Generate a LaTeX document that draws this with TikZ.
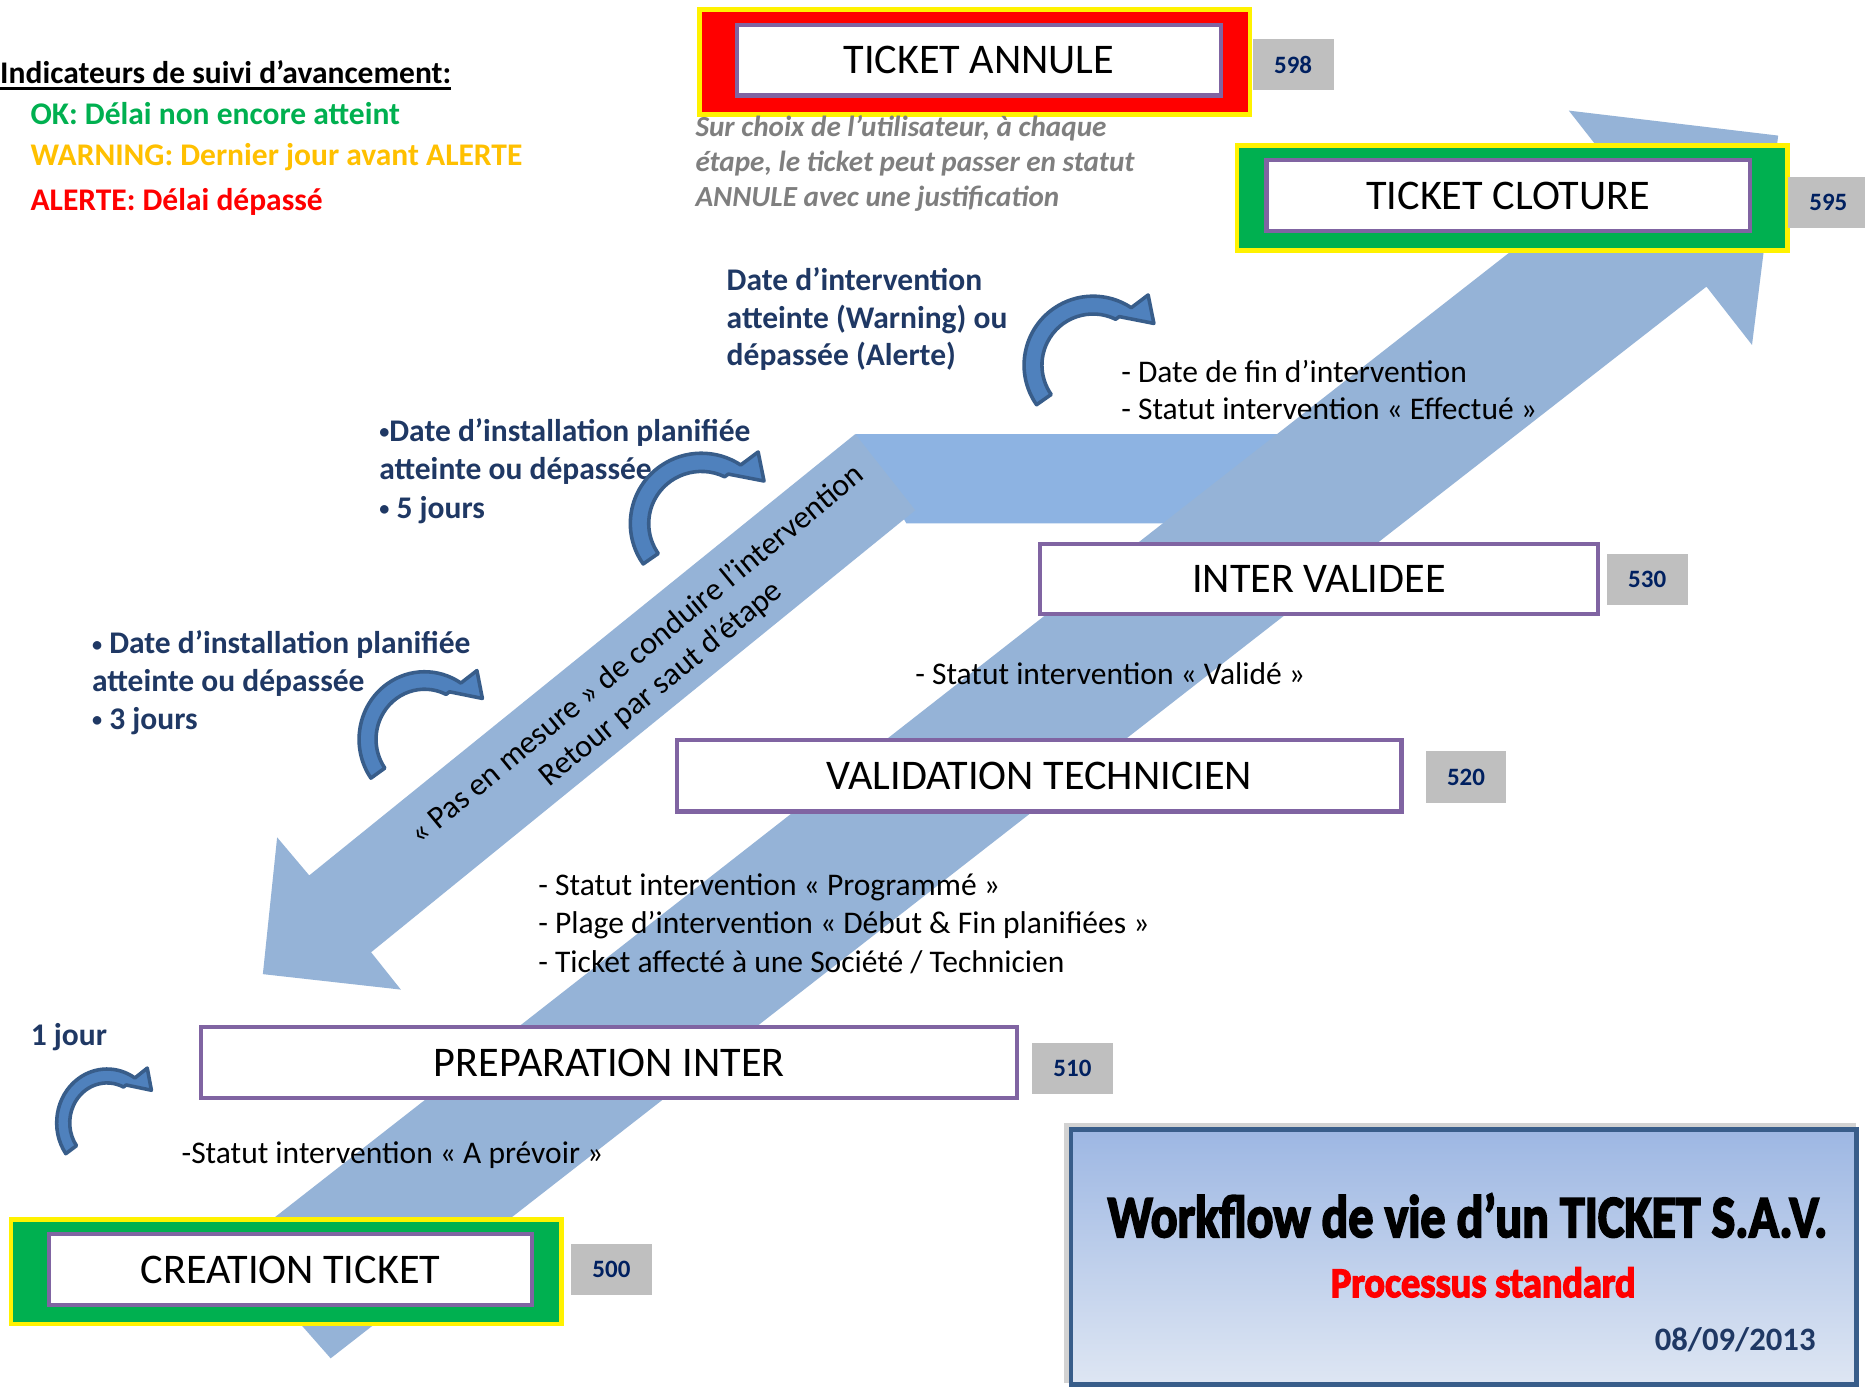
\documentclass[tikz,border=0pt]{standalone}
\usepackage{graphicx}
\usepackage{fontspec}
\setmainfont{Carlito}
\newfontfamily\heavyfont{Carlito Bold}[FakeBold=3.5]
\usetikzlibrary{positioning}

\definecolor{bandblue}{HTML}{95B3D7}
\definecolor{bandflat}{HTML}{8DB3E2}
\definecolor{boxpurple}{HTML}{8064A2}
\definecolor{okgreen}{HTML}{00B050}
\definecolor{warnorange}{HTML}{FFC000}
\definecolor{navytext}{HTML}{1F3864}
\definecolor{tagnavy}{HTML}{002060}
\definecolor{taggray}{HTML}{BFBFBF}
\definecolor{notegray}{HTML}{7F7F7F}
\definecolor{turnfill}{HTML}{4F81BD}
\definecolor{turnline}{HTML}{385D8A}
\definecolor{titletop}{HTML}{9DB7E3}
\definecolor{titlebot}{HTML}{DEE6F3}

\newcommand{\txtfont}{\fontsize{26.5}{31.8}\selectfont}
\newcommand{\boxfont}{\fontsize{35.5}{42}\selectfont}
\newcommand{\tagfont}{\fontsize{21}{25}\selectfont\bfseries}
\newcommand{\notefont}{\fontsize{24.5}{29.4}\selectfont\bfseries\itshape}
\newcommand{\bul}{{\fontsize{17}{17}\selectfont\raisebox{2pt}{•}}}

\tikzset{
  stage/.style={draw=boxpurple, line width=3.5pt, fill=white, minimum width=406.5pt,
    minimum height=59.5pt, inner sep=0pt, font=\boxfont},
  outerframe/.style={draw=yellow, line width=4pt, minimum width=463pt, minimum height=88pt, inner sep=0pt},
  codetag/.style={fill=taggray, text=tagnavy, font=\tagfont, minimum width=68pt,
    minimum height=43pt, inner sep=0pt},
  lbl/.style={anchor=base west, inner sep=0pt, align=left, font=\txtfont},
  bluelbl/.style={lbl, text=navytext, font=\txtfont\bfseries},
  turnarrow/.pic={
    \filldraw[fill=turnfill, draw=turnline, line width=3pt, line join=round, yscale=-1]
      (215:58) arc[start angle=215, end angle=56.4, radius=58]
      -- (46.3,59) -- (51.1,35.1) -- (22,40.8)
      -- (63.8:43) arc[start angle=63.8, end angle=215, radius=43] -- cycle;
  }
}

\begin{document}
\begin{tikzpicture}[x=1pt, y=-1pt]
  \path[use as bounding box, fill=white] (0,0) rectangle (1568,1169);

  % large flow bands
  \fill[bandflat] (719,365) -- (1090,365) -- (990,440) -- (762,440) -- cycle;
  \fill[bandblue] (278,1142) -- (1434.7,241) -- (1473,290) -- (1495,114) -- (1319,93)
    -- (1358,142.8) -- (197,1050) -- cycle;
  \fill[bandblue] (719,365) -- (769.5,429) -- (312,800.6) -- (337,832) -- (221,819)
    -- (233,704) -- (260,736) -- cycle;
  \node[rotate=39.5, align=center, inner sep=0pt, font=\fontsize{26.8}{32}\selectfont] (retour) at (546,563)
    {« Pas en mesure » de conduire l’intervention\\Retour par saut d’étape};

  % legend
  \node[lbl, font=\txtfont\bfseries] (legend) at (0,70) {Indicateurs de suivi d’avancement:};
  \draw[line width=2.2pt] ([yshift=-4.5pt]legend.base west) -- ([yshift=-4.5pt]legend.base east);
  \node[lbl, text=okgreen, font=\txtfont\bfseries] (ok) at (25.5,104.3) {OK: Délai non encore atteint};
  \node[lbl, text=warnorange, font=\txtfont\bfseries] (warning) at (25.5,138.8) {WARNING: Dernier jour avant ALERTE};
  \node[lbl, text=red, font=\txtfont\bfseries] (alerte) at (25.5,177.2) {ALERTE: Délai dépassé};

  % stages
  \node[outerframe, fill=red] (annuleframe) at (819.5,52) {};
  \node[stage] (annule) at (823,50.5) {TICKET ANNULE};
  \node[codetag, right=0pt of annuleframe, yshift=-2.5pt] (t598) {598};

  \node[outerframe, fill=okgreen] (clotureframe) at (1271.5,166.5) {};
  \node[stage] (cloture) at (1268,164.5) {TICKET CLOTURE};
  \node[codetag, right=-2pt of clotureframe, yshift=-3.5pt] (t595) {595};

  \node[stage, minimum width=468.8pt, minimum height=58.7pt] (inter) at (1108.9,486.9) {INTER VALIDEE};
  \node[codetag, right=5.6pt of inter] (t530) {530};

  \node[stage, minimum width=609.2pt, minimum height=60.2pt] (validation) at (873.7,652.2) {VALIDATION TECHNICIEN};
  \node[codetag, right=18.3pt of validation, yshift=-1pt] (t520) {520};

  \node[stage, minimum width=686.2pt] (prep) at (512.2,893.5) {PREPARATION INTER};
  \node[codetag, right=10.4pt of prep, yshift=-4.5pt] (t510) {510};

  \node[outerframe, fill=okgreen] (creationframe) at (240.7,1069.2) {};
  \node[stage] (creation) at (244.2,1067.5) {CREATION TICKET};
  \node[codetag, right=5.7pt of creationframe, yshift=2pt] (t500) {500};

  % notes (multi-line: placed on the last baseline)
  \node[lbl, font=\notefont, text=notegray] (annulenote) at (584.6,173.2)
    {Sur choix de l’utilisateur, à chaque\\étape, le ticket peut passer en statut\\ANNULE avec une justification};
  \node[bluelbl] (dateint) at (610.8,307.6) {Date d’intervention\\atteinte (Warning) ou\\dépassée (Alerte)};
  \node[bluelbl, font=\fontsize{26.5}{32.4}\selectfont\bfseries] (inst5) at (318.7,435.8)
    {\bul Date d’installation planifiée\\atteinte ou dépassée\\\bul\ 5 jours};
  \node[bluelbl] (inst3) at (77.2,613) {\bul\ Date d’installation planifiée\\atteinte ou dépassée\\\bul\ 3 jours};
  \node[bluelbl] (unjour) at (25.7,879.2) {1 jour};

  \node[lbl] (fin) at (942.5,353) {- Date de fin d’intervention\\- Statut intervention « Effectué »};
  \node[lbl] (valide) at (769.3,575.3) {- Statut intervention « Validé »};
  \node[lbl, font=\fontsize{26.5}{32.6}\selectfont] (prog) at (452.4,817.8)
    {- Statut intervention « Programmé »\\- Plage d’intervention « Début \& Fin planifiées »\\- Ticket affecté à une Société / Technicien};
  \node[lbl] (aprevoir) at (152.5,978.2) {-Statut intervention « A prévoir »};

  % delay arrows
  \pic at (919,307) {turnarrow};
  \pic[xscale=1.03, yscale=1.02] at (589.7,440.2) {turnarrow};
  \pic[xscale=0.95, yscale=0.98] at (357,621.6) {turnarrow};
  \pic[xscale=0.73, yscale=0.78] at (90,944) {turnarrow};

  % title
  \fill[gray!35] (894.5,944) rectangle (1560,1163);
  \node[draw=turnline, line width=4pt, top color=titletop, bottom color=titlebot,
    minimum width=660.3pt, minimum height=214.4pt, inner sep=0pt] (titlebox) at (1230.5,1056.8) {};
  \node[anchor=base, inner sep=0pt] (title) at (1233.8,1040)
    {\resizebox{605pt}{36.5pt}{\heavyfont Workflow de vie d’un TICKET S.A.V.}};
  \node[anchor=base, inner sep=0pt, text=red] (subtitle) at (1247,1090.5)
    {\resizebox{256pt}{25pt}{\heavyfont Processus standard}};
  \node[anchor=base east, inner sep=0pt, text=navytext, font=\fontsize{27.5}{33}\selectfont\bfseries] (date)
    at (1526.6,1135.3) {08/09/2013};
\end{tikzpicture}
\end{document}
